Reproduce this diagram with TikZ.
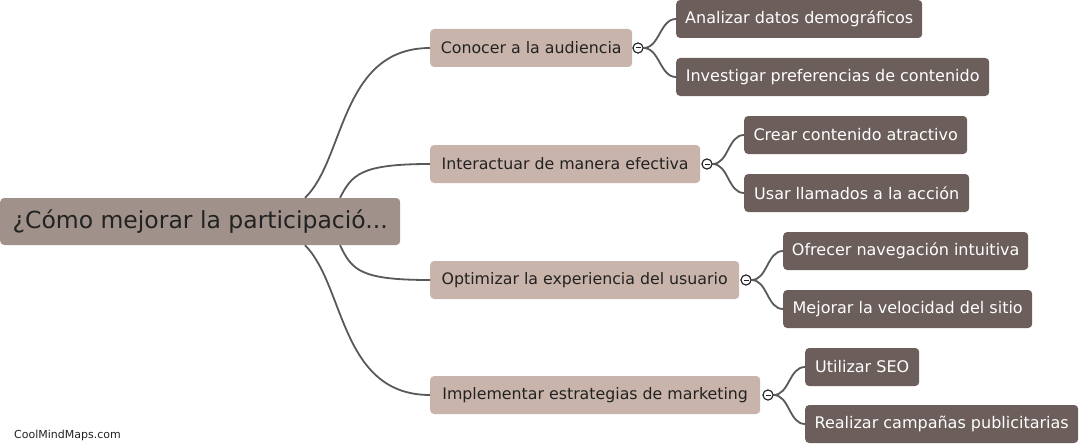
\documentclass[tikz,border=0pt]{standalone}
\usepackage{fontspec}
\setmainfont{DejaVu Sans}
\definecolor{rootc}{HTML}{A0928B}
\definecolor{lonec}{HTML}{C8B4AA}
\definecolor{ltwoc}{HTML}{6B5E5B}
\definecolor{linec}{HTML}{595959}
\definecolor{txtc}{HTML}{222222}
\tikzset{
  rootbox/.style={fill=rootc, rounded corners=4pt, anchor=west, minimum height=47pt, inner sep=0pt, text=txtc, font=\fontsize{23.5}{28}\selectfont},
  lonebox/.style={fill=lonec, rounded corners=4pt, anchor=west, minimum height=38pt, inner sep=0pt, text=txtc, font=\fontsize{15.8}{19}\selectfont},
  ltwobox/.style={fill=ltwoc, rounded corners=4pt, anchor=west, minimum height=38pt, inner sep=0pt, text=white, font=\fontsize{16}{19}\selectfont},
  link/.style={draw=linec, line width=1.8pt},
  toggle/.style={circle, draw=txtc, line width=1pt, fill=white, minimum size=10pt, inner sep=0pt,
    path picture={\draw[txtc, line width=1pt] ([xshift=2.5pt]path picture bounding box.west) -- ([xshift=-2.5pt]path picture bounding box.east);}},
}
\begin{document}
\begin{tikzpicture}[x=1pt,y=-1pt]
\useasboundingbox (0,0) rectangle (1090,444);
% nodes
\node[rootbox, minimum width=400pt] (root) at (0,221.5) {¿Cómo mejorar la participació...};
\node[lonebox, minimum width=202pt] (a) at (430,48) {Conocer a la audiencia};
\node[lonebox, minimum width=270pt] (b) at (430,164) {Interactuar de manera efectiva};
\node[lonebox, minimum width=309pt] (c) at (430,280) {Optimizar la experiencia del usuario};
\node[lonebox, minimum width=330pt] (d) at (430,395) {Implementar estrategias de marketing};
\node[ltwobox, minimum width=246pt] (a1) at (676,19) {Analizar datos demográficos};
\node[ltwobox, minimum width=313pt] (a2) at (676,77) {Investigar preferencias de contenido};
\node[ltwobox, minimum width=223pt] (b1) at (744,135) {Crear contenido atractivo};
\node[ltwobox, minimum width=225pt] (b2) at (744,193) {Usar llamados a la acción};
\node[ltwobox, minimum width=245pt] (c1) at (783,251) {Ofrecer navegación intuitiva};
\node[ltwobox, minimum width=249pt] (c2) at (783,309) {Mejorar la velocidad del sitio};
\node[ltwobox, minimum width=114pt] (d1) at (805,367) {Utilizar SEO};
\node[ltwobox, minimum width=273pt] (d2) at (805,424) {Realizar campañas publicitarias};
% root links
\draw[link] ([xshift=305pt]root.north west) .. controls +(40,-38) and +(-90,0) .. (a.west);
\draw[link] ([xshift=340pt]root.north west) .. controls +(12,-23) and +(-70,0) .. (b.west);
\draw[link] ([xshift=340pt]root.south west) .. controls +(12,25) and +(-70,0) .. (c.west);
\draw[link] ([xshift=305pt]root.south west) .. controls +(40,40) and +(-90,0) .. (d.west);
% toggles
\node[toggle] (ta) at (638,48) {};
\node[toggle] (tb) at (707,164) {};
\node[toggle] (tc) at (746,280) {};
\node[toggle] (td) at (768,395) {};
% child links
\foreach \t/\k in {ta/a1, ta/a2, tb/b1, tb/b2, tc/c1, tc/c2, td/d1, td/d2}
  \draw[link] (\t.east) .. controls +(16,0) and +(-16,0) .. (\k.west);
% redraw toggles on top
\node[toggle] at (ta) {};
\node[toggle] at (tb) {};
\node[toggle] at (tc) {};
\node[toggle] at (td) {};
% watermark
\node[anchor=west, text=txtc, font=\fontsize{11}{13}\selectfont, inner sep=0pt] (wm) at (14,435) {CoolMindMaps.com};
\end{tikzpicture}
\end{document}
